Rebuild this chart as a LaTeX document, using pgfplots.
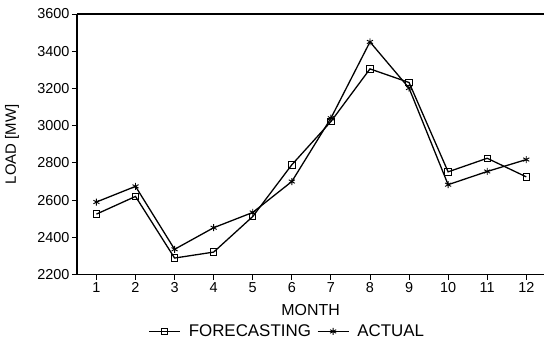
\documentclass[border=0pt]{standalone}
\usepackage{pgfplots}
\pgfplotsset{compat=1.18}
\usepackage{fontspec}
\setmainfont{Liberation Sans}
\begin{document}
\begin{tikzpicture}
\begin{axis}[
  at={(0,0)}, anchor=south west,
  scale only axis, width=468bp, height=261bp,
  xmin=0.5, xmax=12.46, ymin=2200, ymax=3600,
  xtick={1,...,12}, ytick={2200,2400,...,3600},
  axis x line=box, axis y line=left,
  axis line style={-, line width=1.5pt},
  tick align=outside, xtick pos=bottom, ytick pos=left,
  major tick length=5bp,
  tick style={line width=0.9pt, black},
  every tick label/.append style={font=\fontsize{14.5}{16}\selectfont},
  /pgf/number format/assume math mode=true,
  /pgf/number format/1000 sep={},
  xticklabel style={yshift=1bp},
  yticklabel style={xshift=1bp},
  xlabel={MONTH}, ylabel={LOAD [MW]},
  every axis x label/.style={at={(axis description cs:0.5,-0.134)}, anchor=center, font=\fontsize{16}{18}\selectfont},
  every axis y label/.style={at={(axis description cs:-0.139,0.5)}, anchor=center, rotate=90, font=\fontsize{15}{17}\selectfont},
  legend style={draw=none, fill=none, at={(0.45,-0.218)}, anchor=center, legend columns=-1,
    inner sep=0pt,
    font=\fontsize{17}{19}\selectfont,
    /tikz/every even column/.append style={column sep=4bp},
    /tikz/every odd column/.append style={column sep=6bp}},
  legend image code/.code={\draw[#1, mark repeat=2, mark phase=2] plot coordinates {(0cm,0cm) (0.55cm,0cm) (1.1cm,0cm)};},
]
\addplot[black, line width=1.3pt, mark=square, mark size=3.2bp, mark options={line width=0.9pt, solid}]
  coordinates {(1,2525) (2,2620) (3,2289) (4,2321) (5,2512) (6,2790) (7,3022) (8,3305) (9,3232) (10,2752) (11,2825) (12,2725)};
\addlegendentry{FORECASTING}
\addplot[black, line width=1.3pt, mark=asterisk, mark size=3.5bp, mark options={line width=0.9pt, solid}]
  coordinates {(1,2590) (2,2674) (3,2336) (4,2452) (5,2534) (6,2700) (7,3040) (8,3450) (9,3202) (10,2683) (11,2754) (12,2818)};
\addlegendentry{ACTUAL}
\end{axis}
\useasboundingbox (-77bp,-72bp) rectangle (468bp,275bp);
\end{tikzpicture}
\end{document}
